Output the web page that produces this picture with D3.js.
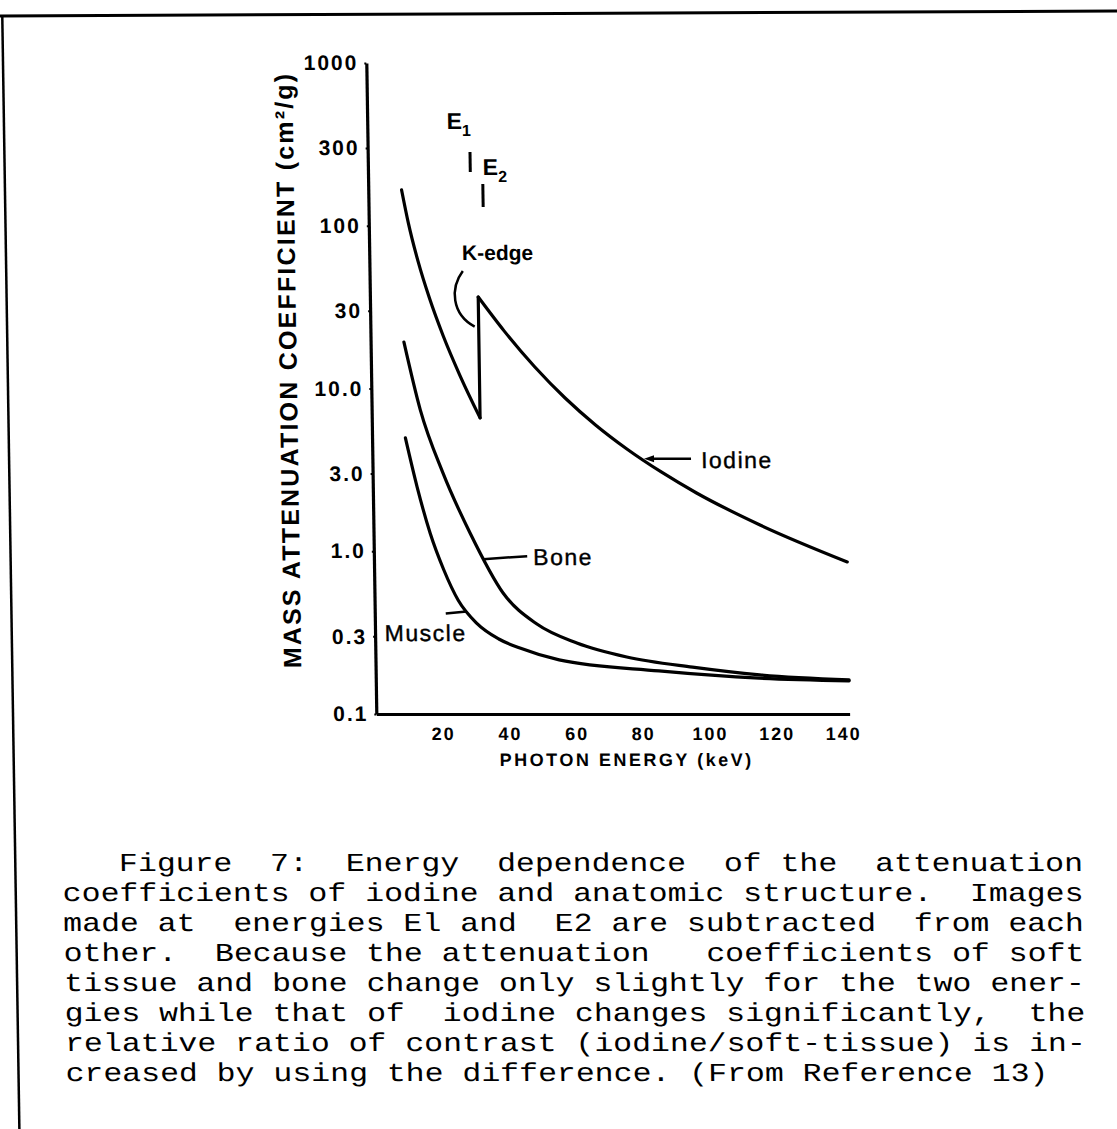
<!DOCTYPE html>
<html>
<head>
<meta charset="utf-8">
<script src="https://cdn.jsdelivr.net/npm/d3@7"></script>
<style>
  html, body { margin: 0; padding: 0; background: #fff; }
  svg { display: block; }
  .lbl { font-family: "Liberation Sans", Arial, Helvetica, sans-serif; fill: #000; }
  .cap { font-family: "Courier New", "Liberation Mono", monospace; font-size: 26px; fill: #000; white-space: pre; }
</style>
</head>
<body>
<svg id="svg1" width="1117" height="1129"></svg>
<script>
// photon energy (keV) / mass attenuation coefficient (cm2/g)
var iodineLowE = [10, 11.9, 14.6, 17.9, 21.8, 26.6, 32.5];
var iodineLowMu = [166, 103.5, 60.6, 35.7, 21.1, 12.1, 6.6];
var iodineHighE = [32.5, 40.1, 49.1, 58.1, 67.1, 76.4, 86.6, 97.1, 116, 142];
var iodineHighMu = [36.5, 22.6, 13.6, 8.74, 5.97, 4.25, 3.07, 2.28, 1.45, 0.86];
var boneE = [10, 14.6, 21.1, 29, 38.6, 48.6, 60.5, 75.4, 95.1, 115.2, 142];
var boneMu = [19.3, 7.4, 3.03, 1.29, 0.554, 0.357, 0.273, 0.224, 0.194, 0.174, 0.162];
var muscleE = [10, 13.3, 17, 20.9, 25.1, 30.5, 37.1, 43.4, 55.1, 85, 115, 142];
var muscleMu = [4.97, 2.48, 1.29, 0.77, 0.50, 0.362, 0.289, 0.254, 0.215, 0.184, 0.166, 0.16];

var kEdge = 32.5;
var energyMarks = [30.7, 34.4];   // E1, E2

var xTicks = [20, 40, 60, 80, 100, 120, 140];
var yTicks = [0.1, 0.3, 1, 3, 10, 30, 100, 300, 1000];
var yTickLabels = ["0.1", "0.3", "1.0", "3.0", "10.0", "30", "100", "300", "1000"];

var caption = [
    "   Figure  7:  Energy  dependence  of the  attenuation",
    "coefficients of iodine and anatomic structure.  Images",
    "made at  energies El and  E2 are subtracted  from each",
    "other.  Because the attenuation   coefficients of soft",
    "tissue and bone change only slightly for the two ener-",
    "gies while that of  iodine changes significantly,  the",
    "relative ratio of contrast (iodine/soft-tissue) is in-",
    "creased by using the difference. (From Reference 13)"
];

var svg = d3.select("#svg1");

// page frame (top edge of the scanned sheet)
svg.append("line")
    .attr("x1", 0).attr("y1", 16).attr("x2", 1117).attr("y2", 11)
    .attr("stroke", "#000").attr("stroke-width", 3);

// the scan is slightly sheared, so everything sits in a skewed group
var page = svg.append("g")
    .attr("transform", "translate(0,714) skewX(0.88) translate(0,-714)");

page.append("line")
    .attr("x1", 13).attr("y1", 15).attr("x2", 13).attr("y2", 1129)
    .attr("stroke", "#000").attr("stroke-width", 2.5);

var x = d3.scaleLinear().domain([0, 142]).range([376.3, 849.6]);
var y = d3.scaleLog().domain([0.1, 1000]).range([714, 63]);

// axes
var yAxis = page.append("g")
    .attr("transform", "translate(" + x(0) + ",0)")
    .call(d3.axisLeft(y)
        .tickValues(yTicks)
        .tickFormat(function (d, i) { return yTickLabels[i]; })
        .tickSize(2)
        .tickSizeOuter(0)
        .tickPadding(6));

var xAxis = page.append("g")
    .attr("transform", "translate(0," + y(0.1) + ")")
    .call(d3.axisBottom(x)
        .tickValues(xTicks)
        .tickSize(0)
        .tickSizeOuter(0)
        .tickPadding(13));

[yAxis, xAxis].forEach(function (a) {
    a.select(".domain").attr("stroke", "#000").attr("stroke-width", 3.2);
    a.selectAll(".tick line").attr("stroke", "#000").attr("stroke-width", 2);
    a.selectAll(".tick text")
        .attr("class", "lbl")
        .style("font-weight", "bold");
});
yAxis.selectAll(".tick text").style("font-size", "21px").style("letter-spacing", "2px");
xAxis.selectAll(".tick text").style("font-size", "18px").style("letter-spacing", "2px");

// axis titles
page.append("text")
    .attr("class", "lbl")
    .attr("transform", "translate(302,370) rotate(-90)")
    .attr("text-anchor", "middle")
    .style("font-size", "25px")
    .style("font-weight", "bold")
    .style("letter-spacing", "2.2px")
    .text("MASS ATTENUATION COEFFICIENT (cm\u00B2/g)");

page.append("text")
    .attr("class", "lbl")
    .attr("x", 626)
    .attr("y", 766)
    .attr("text-anchor", "middle")
    .style("font-size", "18px")
    .style("font-weight", "bold")
    .style("letter-spacing", "2.5px")
    .text("PHOTON ENERGY (keV)");

// curves
var line = d3.line()
    .x(function (d) { return x(d[0]); })
    .y(function (d) { return y(d[1]); })
    .curve(d3.curveMonotoneX);

var straight = d3.line()
    .x(function (d) { return x(d[0]); })
    .y(function (d) { return y(d[1]); });

var curves = [
    line(d3.zip(iodineLowE, iodineLowMu)),
    straight([[kEdge, iodineLowMu[iodineLowMu.length - 1]], [kEdge, iodineHighMu[0]]]),
    line(d3.zip(iodineHighE, iodineHighMu)),
    line(d3.zip(boneE, boneMu)),
    line(d3.zip(muscleE, muscleMu))
];

page.selectAll(".curve")
    .data(curves)
    .enter().append("path")
    .attr("class", "curve")
    .attr("d", function (d) { return d; })
    .attr("fill", "none")
    .attr("stroke", "#000")
    .attr("stroke-width", 3.2)
    .attr("stroke-linejoin", "miter")
    .attr("stroke-linecap", "round");

// E1 / E2 marks
var e1x = x(energyMarks[0]), e2x = x(energyMarks[1]);
page.append("line").attr("x1", e1x).attr("x2", e1x).attr("y1", 152).attr("y2", 172)
    .attr("stroke", "#000").attr("stroke-width", 3);
page.append("line").attr("x1", e2x).attr("x2", e2x).attr("y1", 184).attr("y2", 207)
    .attr("stroke", "#000").attr("stroke-width", 3);

var t1 = page.append("text").attr("class", "lbl")
    .attr("x", e1x - 23).attr("y", 129)
    .style("font-size", "23px").style("font-weight", "bold");
t1.append("tspan").text("E");
t1.append("tspan").attr("dy", 7).style("font-size", "16px").text("1");

var t2 = page.append("text").attr("class", "lbl")
    .attr("x", e2x).attr("y", 175)
    .style("font-size", "23px").style("font-weight", "bold");
t2.append("tspan").text("E");
t2.append("tspan").attr("dy", 7).style("font-size", "16px").text("2");

// K-edge label and leader
var kx = x(kEdge);
page.append("text").attr("class", "lbl")
    .attr("x", kx + 20).attr("y", 260)
    .attr("text-anchor", "middle")
    .style("font-size", "21px").style("font-weight", "bold")
    .text("K-edge");
page.append("path")
    .attr("d", "M" + (kx - 15) + ",271 C" + (kx - 28) + ",288 " + (kx - 27) + ",314 " + (kx - 4) + "," + y(24))
    .attr("fill", "none").attr("stroke", "#000").attr("stroke-width", 2.5);

// curve labels
var labelStyle = function (sel) {
    sel.attr("class", "lbl")
        .style("font-size", "23px")
        .style("letter-spacing", "1.5px")
        .style("stroke", "#000")
        .style("stroke-width", "0.4px");
};

// Iodine, with arrow
var ix = x(81.5), iy = y(3.7);
page.append("line").attr("x1", ix + 6).attr("y1", iy).attr("x2", ix + 47).attr("y2", iy)
    .attr("stroke", "#000").attr("stroke-width", 2.5);
page.append("path")
    .attr("d", "M" + ix + "," + iy + " L" + (ix + 10) + "," + (iy - 3.5) + " L" + (ix + 10) + "," + (iy + 3.5) + " Z")
    .attr("fill", "#000");
page.append("text").call(labelStyle)
    .attr("x", ix + 57).attr("y", iy + 9)
    .text("Iodine");

// Bone
var bx = x(32.8), by = y(0.92);
page.append("line").attr("x1", bx).attr("y1", by + 2).attr("x2", bx + 44).attr("y2", by - 1)
    .attr("stroke", "#000").attr("stroke-width", 2.5);
page.append("text").call(labelStyle)
    .attr("x", bx + 50).attr("y", by + 8)
    .text("Bone");

// Muscle
var mx = x(27.6), my = y(0.42);
page.append("line").attr("x1", mx - 21).attr("y1", my + 1).attr("x2", mx).attr("y2", my - 1)
    .attr("stroke", "#000").attr("stroke-width", 2.5);
page.append("text").call(labelStyle)
    .attr("x", 386).attr("y", my + 28)
    .text("Muscle");

// caption, typewriter text stretched to the scan's character pitch
page.selectAll(".cap")
    .data(caption)
    .enter().append("text")
    .attr("class", "cap")
    .attr("xml:space", "preserve")
    .attr("transform", function (d, i) { return "translate(60," + (871 + i * 30) + ") scale(1.212,1)"; })
    .text(function (d) { return d; });
</script>
</body>
</html>
